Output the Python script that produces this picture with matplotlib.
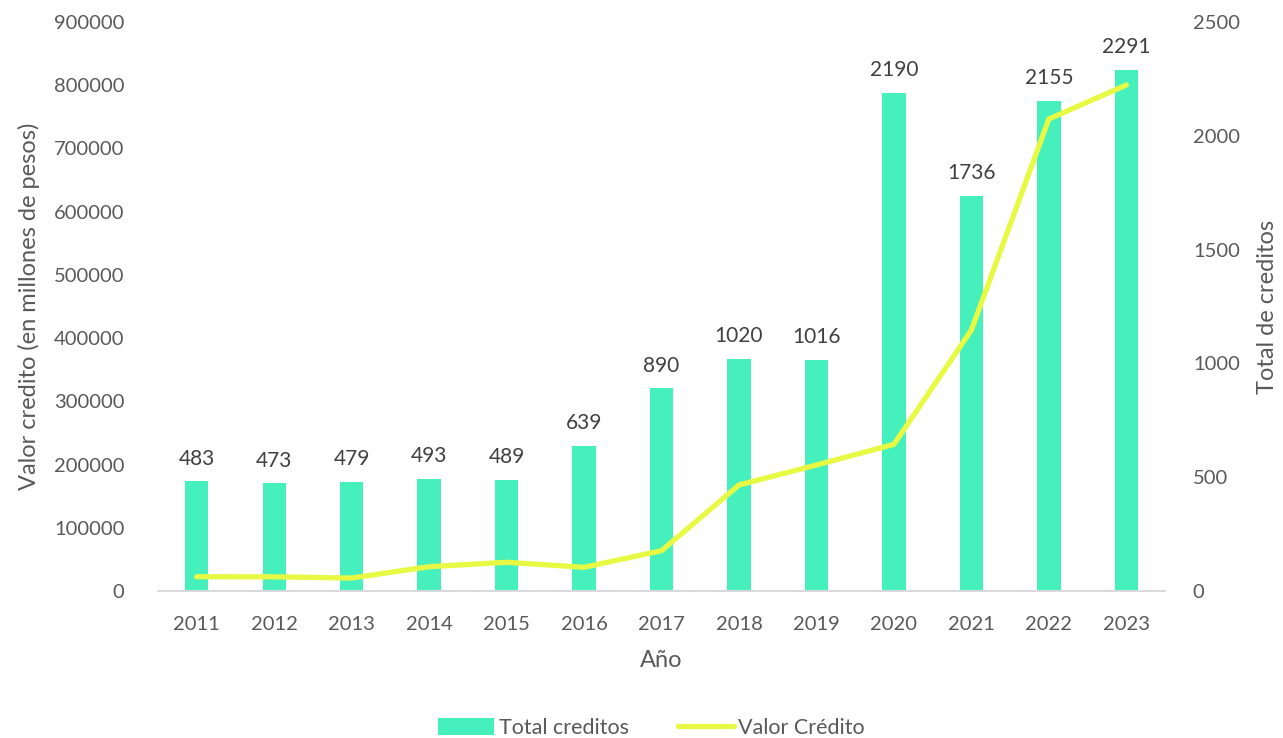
import matplotlib.pyplot as plt
import numpy as np

plt.rcParams['font.family'] = ['Lato', 'DejaVu Sans']

years = ['2011', '2012', '2013', '2014', '2015', '2016', '2017',
         '2018', '2019', '2020', '2021', '2022', '2023']
total_creditos = [483, 473, 479, 493, 489, 639, 890, 1020, 1016, 2190, 1736, 2155, 2291]
valor_credito = [22600, 22400, 20500, 38400, 45400, 37500, 63700,
                 167700, 199300, 232000, 412800, 746600, 800300]

grey = '#595959'
bar_color = '#45F0BD'
line_color = '#E8F944'

fig = plt.figure(figsize=(12.83, 7.38), dpi=100)
ax = fig.add_axes([0.1231, 0.1992, 0.785, 0.771])
ax2 = ax.twinx()

x = np.arange(len(years))

# bars on right axis, line on left axis
bars = ax2.bar(x, total_creditos, width=0.3, color=bar_color, label='Total creditos', zorder=1)
for xi, v in zip(x, total_creditos):
    ax2.text(xi, v + 55, str(v), ha='center', va='bottom', fontsize=15, color='#404040')
ax2.set_ylim(0, 2500)
ax2.set_yticks(range(0, 2501, 500))

line, = ax.plot(x, valor_credito, color=line_color, lw=3.8, label='Valor Crédito',
                solid_capstyle='round', zorder=5)
ax.set_ylim(0, 900000)
ax.set_yticks(range(0, 900001, 100000))
ax.set_xlim(-0.5, len(years) - 0.5)
ax.set_xticks(x)
ax.set_xticklabels(years)

# draw line above bars
ax.set_zorder(ax2.get_zorder() + 1)
ax.patch.set_visible(False)

for a in (ax, ax2):
    for s in ['top', 'right', 'left']:
        a.spines[s].set_visible(False)
    a.spines['bottom'].set_color('#d9d9d9')
    a.spines['bottom'].set_linewidth(1.2)
    a.tick_params(length=0, labelsize=14.5, colors=grey)
    a.tick_params(axis='x', pad=18)
ax.tick_params(axis='y', pad=24)
ax2.tick_params(axis='y', pad=20)

ax.set_xlabel('Año', fontsize=17, color=grey, labelpad=12)
ax.set_ylabel('Valor credito (en millones de pesos)', fontsize=17, color=grey, labelpad=10)
ax2.set_ylabel('Total de creditos', fontsize=17, color=grey, labelpad=12)

fig.legend([bars, line], ['Total creditos', 'Valor Crédito'], loc='center',
           bbox_to_anchor=(0.508, 0.0135), ncol=2, frameon=False, fontsize=15.5,
           labelcolor=grey, handlelength=2.6, handleheight=0.8, columnspacing=2.3,
           handletextpad=0.2)

fig.savefig('out.png', dpi=100)
